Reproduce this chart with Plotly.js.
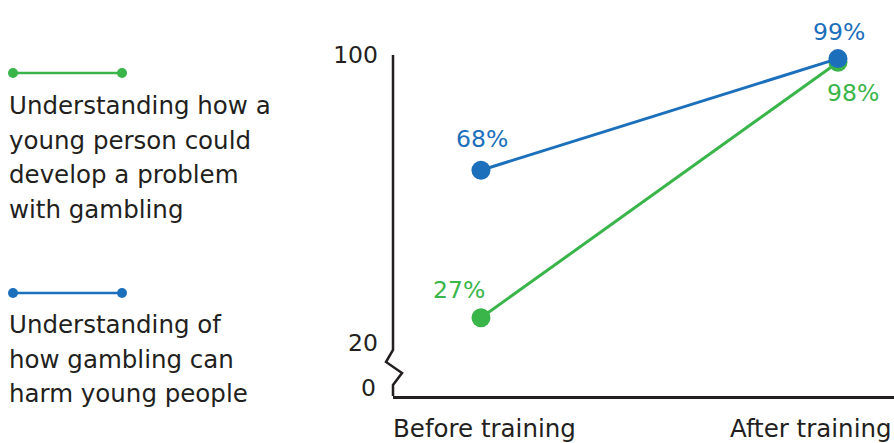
<!DOCTYPE html>
<html>
<head>
<meta charset="utf-8">
<script src="https://cdn.plot.ly/plotly-3.0.1.min.js"></script>
<style>
html,body{margin:0;padding:0;background:#fff;}
#chart{width:894px;height:443px;}
</style>
</head>
<body>
<div id="chart"></div>
<script>
// ---- data ----
var categories = ["Before training", "After training"];
var seriesNames = [
  "Understanding how a young person could develop a problem with gambling",
  "Understanding of how gambling can harm young people"
];
var legendLines = [
  ["Understanding how a", "young person could", "develop a problem", "with gambling"],
  ["Understanding of", "how gambling can", "harm young people"]
];
var greenValues = [27, 98];
var blueValues = [68, 99];
var yTickVals = [20, 100];
var yTickText = ["20", "100"];
var brokenAxisLabel = "0";

// ---- style ----
var GREEN = "#39b54a", BLUE = "#1c6fbb", INK = "#231f20";
var FONT = "'DejaVu Sans', 'Noto Sans', sans-serif";
var FS = 24.5;   // word text
var FN = 23.5;   // numeric text

// plot area geometry in px
var L = 393, R = 0, T = 30, B = 47, W = 894, H = 443;
var PW = W - L - R, PH = H - T - B;
function px(xp) { return (xp - L) / PW; }
function py(yp) { return (H - B - yp) / PH; }

var traces = [
  {x: categories, y: greenValues, name: seriesNames[0], type: "scatter", mode: "lines+markers",
   line: {color: GREEN, width: 3}, marker: {color: GREEN, size: 19}, cliponaxis: false, hoverinfo: "skip"},
  {x: categories, y: blueValues, name: seriesNames[1], type: "scatter", mode: "lines+markers",
   line: {color: BLUE, width: 3}, marker: {color: BLUE, size: 19}, cliponaxis: false, hoverinfo: "skip"}
];

var annotations = [];
// value labels (offsets in px relative to each dot)
var greenOff = [[-22, 28], [15, -31]];
var blueOff = [[1, 31], [1, 27]];
greenValues.forEach(function (v, i) {
  annotations.push({x: categories[i], y: v, xref: "x", yref: "y", text: v + "%", showarrow: false,
    xanchor: "center", yanchor: "middle", xshift: greenOff[i][0], yshift: greenOff[i][1],
    font: {family: FONT, size: FN, color: GREEN}});
});
blueValues.forEach(function (v, i) {
  annotations.push({x: categories[i], y: v, xref: "x", yref: "y", text: v + "%", showarrow: false,
    xanchor: "center", yanchor: "middle", xshift: blueOff[i][0], yshift: blueOff[i][1],
    font: {family: FONT, size: FN, color: BLUE}});
});
// category labels
var catShift = [4, -27];
categories.forEach(function (c, i) {
  annotations.push({x: c, y: py(428), xref: "x", yref: "paper", text: c, showarrow: false,
    xanchor: "center", yanchor: "middle", xshift: catShift[i],
    font: {family: FONT, size: FS, color: INK}});
});
// broken-axis zero label
annotations.push({x: px(378), y: py(388), xref: "paper", yref: "paper", text: brokenAxisLabel,
  showarrow: false, xanchor: "right", yanchor: "middle", font: {family: FONT, size: FN, color: INK}});
// legend texts
var legendTextY = [[105, 140, 174, 209], [324, 359, 393]];
legendLines.forEach(function (lines, s) {
  lines.forEach(function (t, j) {
    annotations.push({x: px(7), y: py(legendTextY[s][j]), xref: "paper", yref: "paper", text: t,
      showarrow: false, xanchor: "left", yanchor: "middle", font: {family: FONT, size: FS, color: INK}});
  });
});

var shapes = [];
// y axis with break squiggle
shapes.push({type: "path", xref: "paper", yref: "paper",
  path: "M 0," + py(55) + " L 0," + py(350) + " L " + px(386) + "," + py(362) + " L " + px(402) + "," + py(373) +
        " L 0," + py(385) + " L 0,0",
  line: {color: INK, width: 2.5}});
// legend swatches
var legendColors = [GREEN, BLUE];
var legendY = [73, 293];
legendColors.forEach(function (col, s) {
  shapes.push({type: "line", xref: "paper", yref: "paper", x0: px(13), x1: px(122), y0: py(legendY[s]), y1: py(legendY[s]),
    line: {color: col, width: 2.5}});
  [13, 122].forEach(function (xx) {
    shapes.push({type: "circle", xref: "paper", yref: "paper", xsizemode: "pixel", ysizemode: "pixel",
      xanchor: px(xx), yanchor: py(legendY[s]), x0: -5, x1: 5, y0: -5, y1: 5,
      fillcolor: col, line: {color: col, width: 0}});
  });
});

var layout = {
  width: W, height: H,
  margin: {l: L, r: R, t: T, b: B, pad: 0},
  paper_bgcolor: "#fff", plot_bgcolor: "#fff",
  showlegend: false,
  font: {family: FONT, size: FS, color: INK},
  xaxis: {type: "category", range: [-0.2465, 1.157], showgrid: false, zeroline: false,
    showline: true, linecolor: INK, linewidth: 2.5, showticklabels: false, ticks: "", fixedrange: true},
  yaxis: {range: [5.278, 106.944], showgrid: false, zeroline: false, showline: false,
    tickmode: "array", tickvals: yTickVals, ticktext: yTickText, ticks: "",
    ticklabelstandoff: 14, tickfont: {family: FONT, size: FN, color: INK}, fixedrange: true},
  annotations: annotations,
  shapes: shapes
};

Plotly.newPlot("chart", traces, layout, {displayModeBar: false, staticPlot: true});
</script>
</body>
</html>
